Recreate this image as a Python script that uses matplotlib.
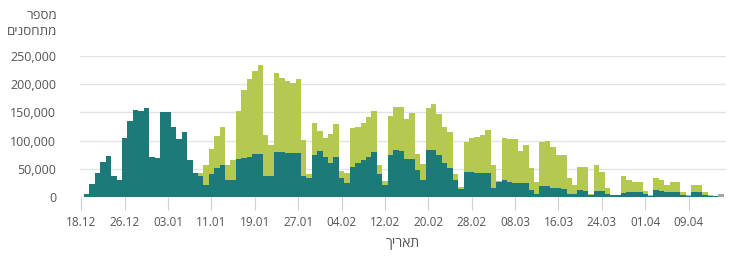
import matplotlib
matplotlib.use("Agg")
import matplotlib.pyplot as plt
from matplotlib.ticker import FuncFormatter

plt.rcParams['font.family'] = ['Open Sans', 'DejaVu Sans']

# Daily totals (thousands) and first-dose part (thousands); index 0 = first day
total_k = [6, 23, 43, 62, 72, 38, 31,
           104, 135, 155, 153, 158, 71, 70,
           150, 151, 125, 103, 116, 66, 43,
           43, 57, 85, 108, 125, 56, 66,
           153, 190, 210, 223, 234, 110, 92,
           220, 211, 205, 203, 210, 101, 41,
           132, 117, 104, 112, 129, 46, 43,
           122, 125, 131, 141, 153, 57, 28,
           144, 159, 160, 138, 149, 77, 59,
           158, 165, 147, 125, 116, 41, 17,
           97, 105, 107, 110, 118, 56, 29,
           104, 103, 102, 81, 93, 51, 26,
           97, 100, 89, 75, 74, 34, 21,
           53, 53, 5, 56, 44, 16, 4,
           4, 37, 31, 26, 26, 10, 3,
           34, 31, 22, 26, 26, 8, 3,
           22, 22, 8, 3, 2]
first_k = [6, 23, 43, 62, 72, 38, 31,
           104, 135, 155, 153, 158, 71, 70,
           150, 151, 125, 103, 116, 66, 43,
           37, 22, 40, 51, 56, 31, 31,
           68, 70, 71, 76, 76, 37, 38,
           80, 80, 78, 78, 78, 37, 34,
           75, 82, 71, 61, 71, 34, 24,
           53, 61, 65, 71, 80, 40, 22,
           74, 83, 82, 68, 68, 47, 31,
           83, 84, 75, 61, 51, 31, 15,
           44, 44, 43, 42, 42, 16, 26,
           31, 26, 25, 24, 24, 12, 5,
           19, 19, 16, 16, 15, 6, 5,
           12, 11, 4, 10, 10, 6, 3,
           3, 7, 9, 8, 8, 5, 2,
           12, 10, 8, 8, 8, 4, 2,
           9, 8, 4, 2, 1]
partial_day_k = [5]  # last (incomplete) day

tick_labels = ['18.12', '26.12', '03.01', '11.01', '19.01', '27.01', '04.02',
               '12.02', '20.02', '28.02', '08.03', '16.03', '24.03', '01.04', '09.04']
y_label = 'מספר\nמתחסנים'
x_label = 'תאריך'

teal = '#1c7a78'
green = '#b5c84f'
grey = '#a3a3a3'
txt = '#555555'

def heb(s):
    return '\n'.join(line[::-1] for line in s.split('\n'))

first = [v * 1000 for v in first_k]
second = [(t - f) * 1000 for t, f in zip(total_k, first_k)]
n = len(first)
x = list(range(n))

fig = plt.figure(figsize=(7.45, 2.57), dpi=100)
ax = fig.add_axes([80 / 745, (257 - 197) / 257, (726 - 80) / 745, (197 - 56) / 257])

ax.bar(x, first, width=1.0, color=teal, linewidth=0, zorder=2)
ax.bar(x, second, bottom=first, width=1.0, color=green, linewidth=0, zorder=2)
ax.bar([n], [partial_day_k[0] * 1000], width=1.0, color=grey, linewidth=0, zorder=2)

ax.set_xlim(-1.25, n + 0.9)
ax.set_ylim(0, 250000)
ax.set_yticks(range(0, 250001, 50000))
ax.yaxis.set_major_formatter(FuncFormatter(lambda v, p: f'{int(v):,}'))
ax.set_xticks([-1 + 8 * k for k in range(len(tick_labels))])
ax.set_xticklabels(tick_labels)

ax.grid(axis='y', color='#e3e3e3', linewidth=1, zorder=0)
ax.set_axisbelow(True)
for s in ax.spines.values():
    s.set_visible(False)

ax.tick_params(axis='y', length=0, pad=17, labelsize=9, labelcolor=txt)
ax.tick_params(axis='x', length=9, width=0.8, color='#d0d0d0', pad=5,
               labelsize=8.5, labelcolor=txt)

fig.text(57 / 745, 1 - 9 / 257, heb(y_label), ha='right', va='top',
         fontsize=9.5, color=txt, linespacing=1.3)
fig.text(403 / 745, 1 - 243 / 257, heb(x_label), ha='center', va='center',
         fontsize=10, color=txt)

fig.savefig('out.png', dpi=100)
